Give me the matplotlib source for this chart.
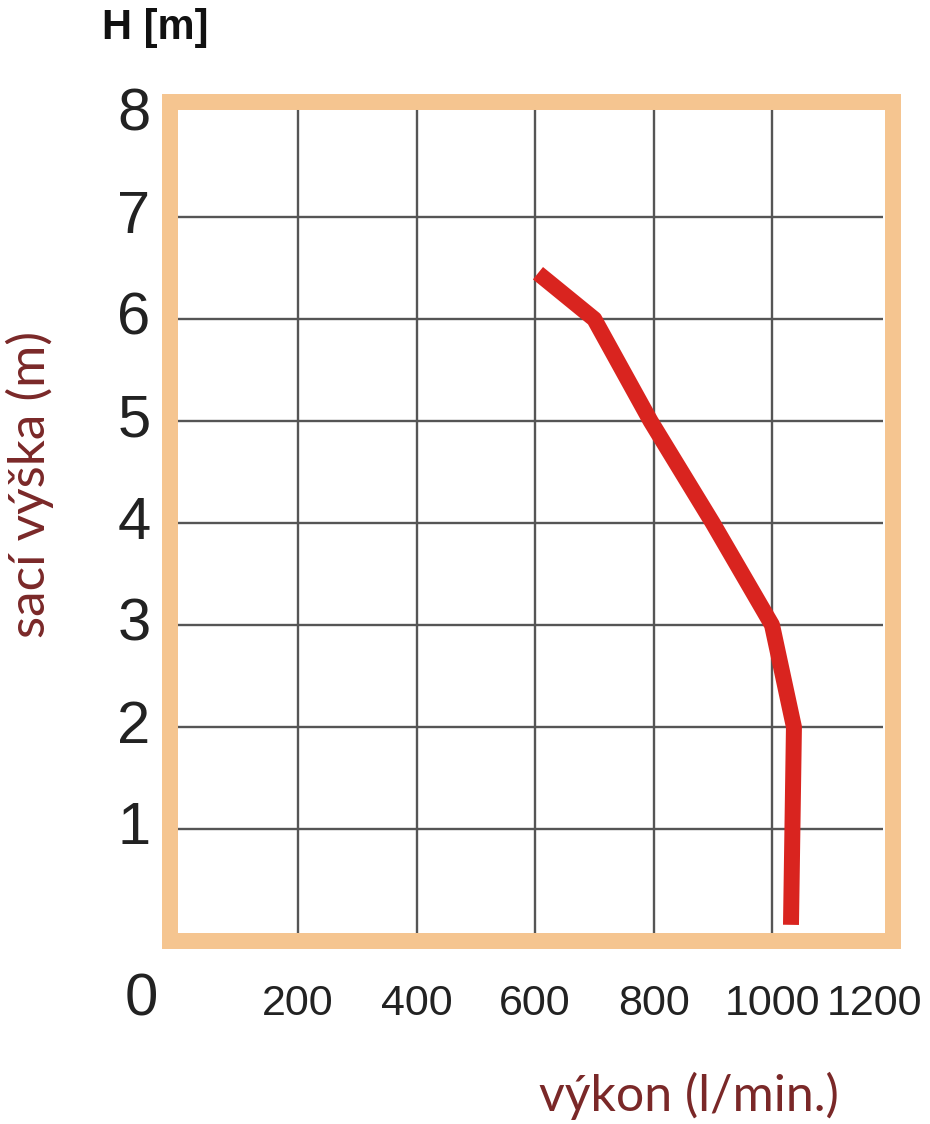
import matplotlib
matplotlib.use("Agg")
import matplotlib.pyplot as plt
import matplotlib.transforms as mtransforms
from matplotlib.patches import Rectangle

# data
flow = [605, 700, 795, 900, 1000, 1037, 1032]      # l/min
head = [6.45, 6.0, 5.0, 4.0, 3.0, 2.0, 0.06]        # m
x_ticks = [200, 400, 600, 800, 1000, 1200]
y_ticks = [1, 2, 3, 4, 5, 6, 7, 8]
x_grid = [200, 400, 600, 800, 1000]
y_grid = [1, 2, 3, 4, 5, 6, 7]

W, H = 930, 1124
sans = ["Liberation Sans", "DejaVu Sans"]
label_red = "#7a2828"
frame_col = "#f5c590"

fig = plt.figure(figsize=(W / 100, H / 100), dpi=100)
fig.patch.set_facecolor("white")

# axes = inner area of the orange frame (pixel box 177..883, 108..933)
ax = fig.add_axes([177 / W, (H - 933) / H, (883 - 177) / W, (933 - 108) / H])
ax.set_xlim(-4.2, 1187.3)
ax.set_ylim(-0.02, 8.07)
for s in ax.spines.values():
    s.set_visible(False)
ax.set_xticks([])
ax.set_yticks([])

ax.vlines(x_grid, -0.02, 8.07, colors="#555555", linewidth=1.7, zorder=1)
ax.hlines(y_grid, -4.2, 1187.3, colors="#555555", linewidth=1.7, zorder=1)

ax.plot(flow, head, color="#d9241f", linewidth=11.5,
        solid_capstyle="butt", solid_joinstyle="round", zorder=3)

# thick orange frame around the plot
fig.patches.append(Rectangle((169.5 / W, (H - 940.5) / H), (892.5 - 169.5) / W,
                             (940.5 - 101.5) / H, transform=fig.transFigure,
                             fill=False, edgecolor=frame_col, linewidth=11.5,
                             joinstyle="miter", zorder=5))

# tick labels
ytr = mtransforms.blended_transform_factory(fig.transFigure, ax.transData)
for v in y_ticks:
    fig.text(134 / W, v, str(v), transform=ytr, ha="center", va="center",
             fontsize=43, family=sans, color="#222222")
xtr = mtransforms.blended_transform_factory(ax.transData, fig.transFigure)
for v in x_ticks:
    tr = xtr
    if v == x_ticks[-1]:
        # last label is pulled in so it stays on the page
        tr = mtransforms.offset_copy(xtr, fig=fig, x=-16, units="dots")
    fig.text(v, (H - 1004) / H, str(v), transform=tr, ha="center", va="center",
             fontsize=31, family=sans, color="#222222")
fig.text(141 / W, (H - 1000) / H, "0", ha="center", va="center",
         fontsize=43, family=sans, color="#222222")

fig.text(155 / W, (H - 28) / H, "H [m]", ha="center", va="center",
         fontsize=30, family=sans, fontweight="bold", color="#111111")

fig.text(689 / W, (H - 1096) / H, "výkon (l/min.)", ha="center", va="center",
         fontsize=36, family="Lato", color=label_red)
fig.text(30 / W, (H - 484) / H, "sací výška (m)", ha="center", va="center",
         rotation=90, fontsize=37, family="Lato", color=label_red)

fig.savefig("out.png", dpi=100)
